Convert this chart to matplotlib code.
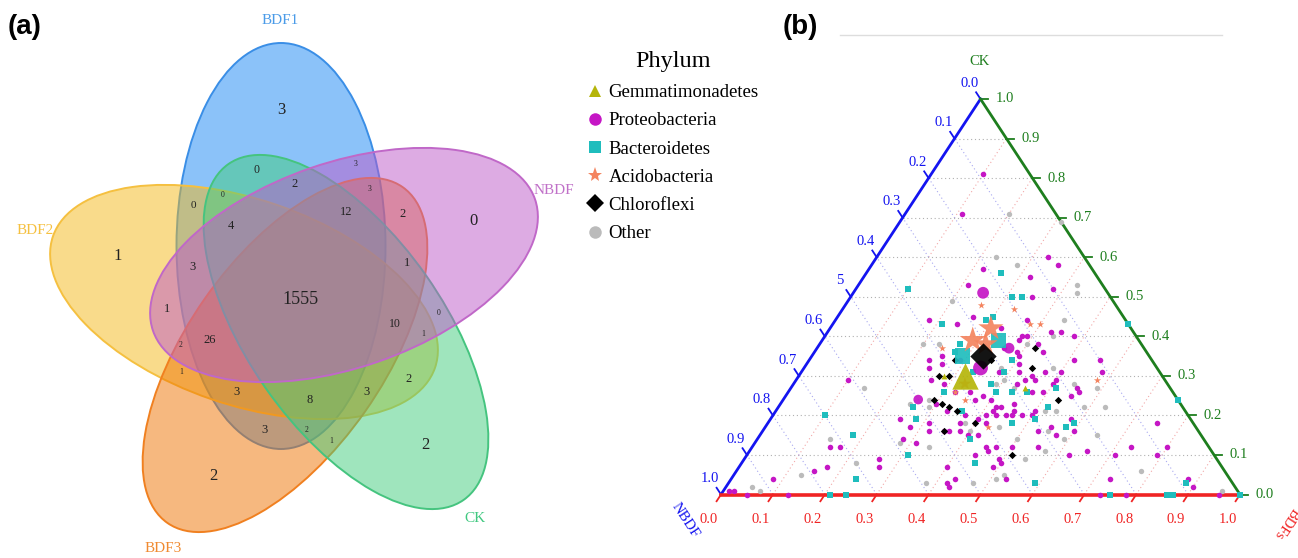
import numpy as np
import matplotlib
matplotlib.use("Agg")
import matplotlib.pyplot as plt
from matplotlib.patches import Ellipse
from matplotlib.lines import Line2D

# ---------------- (a) Venn data ----------------
set_names = ['BDF1', 'BDF2', 'BDF3', 'CK', 'NBDF']
venn_counts = [3, 0, 3, 2, 3, 0, 0, 12, 2, 0, 4, 1, 3, 1, 1555, 1, 0, 10,
               26, 1, 2, 1, 2, 3, 8, 3, 3, 2, 1, 2, 2]

# ---------------- (b) ternary data (CK, BDFs; NBDF = 1 - CK - BDFs) ----------------
phyla = ['Gemmatimonadetes', 'Proteobacteria', 'Bacteroidetes',
         'Acidobacteria', 'Chloroflexi', 'Other']

proteo_ck = [0.81, 0.71, 0.60, 0.57, 0.58, 0.55, 0.53, 0.52, 0.50, 0.45, 0.44, 0.43, 0.44, 0.42,
             0.40, 0.40, 0.41, 0.40, 0.36, 0.37, 0.34, 0.34, 0.31, 0.32, 0.33, 0.34, 0.33, 0.31,
             0.31, 0.29, 0.26, 0.26, 0.28, 0.27, 0.29, 0.28, 0.29, 0.28, 0.29, 0.24, 0.25, 0.24,
             0.22, 0.21, 0.20, 0.20, 0.20, 0.20, 0.20, 0.21, 0.20, 0.19, 0.18, 0.20, 0.18, 0.16,
             0.18, 0.19, 0.16, 0.16, 0.17, 0.13, 0.14, 0.16, 0.15, 0.15, 0.12, 0.12, 0.12, 0.12,
             0.16, 0.17, 0.16, 0.15, 0.19, 0.11, 0.12, 0.10, 0.18, 0.12, 0.10, 0.10, 0.11, 0.09,
             0.08, 0.07, 0.04, 0.07, 0.03, 0.02, 0.04, 0.09, 0.07, 0.12, 0.12, 0.07, 0.06, 0.04,
             0.10, 0.04, 0.04, 0.02, 0.01, 0.01, 0.00, 0.00, 0.00, 0.00, 0.00, 0.35, 0.34, 0.35,
             0.31, 0.31, 0.30, 0.29, 0.26, 0.26, 0.23, 0.21, 0.22, 0.23, 0.21, 0.25, 0.26, 0.39,
             0.41, 0.38, 0.36]
proteo_bdfs = [0.10, 0.11, 0.33, 0.22, 0.36, 0.32, 0.21, 0.38, 0.35, 0.26, 0.18, 0.24, 0.37, 0.33,
               0.38, 0.48, 0.45, 0.39, 0.39, 0.36, 0.51, 0.56, 0.58, 0.24, 0.26, 0.29, 0.41, 0.42,
               0.47, 0.46, 0.49, 0.47, 0.50, 0.55, 0.44, 0.43, 0.26, 0.29, 0.10, 0.37, 0.38, 0.40,
               0.43, 0.46, 0.46, 0.48, 0.50, 0.45, 0.43, 0.42, 0.41, 0.40, 0.42, 0.37, 0.37, 0.36,
               0.31, 0.25, 0.32, 0.35, 0.28, 0.31, 0.28, 0.38, 0.40, 0.42, 0.45, 0.47, 0.50, 0.55,
               0.53, 0.55, 0.60, 0.57, 0.58, 0.65, 0.73, 0.71, 0.75, 0.80, 0.79, 0.44, 0.46, 0.49,
               0.50, 0.49, 0.53, 0.40, 0.42, 0.43, 0.43, 0.26, 0.27, 0.17, 0.15, 0.17, 0.15, 0.08,
               0.62, 0.73, 0.88, 0.90, 0.02, 0.01, 0.05, 0.13, 0.73, 0.78, 0.96, 0.40, 0.23, 0.25,
               0.50, 0.38, 0.45, 0.50, 0.35, 0.32, 0.30, 0.33, 0.42, 0.45, 0.50, 0.55, 0.56, 0.38,
               0.43, 0.42, 0.44]

bact_ck = [0.56, 0.52, 0.50, 0.50, 0.44, 0.45, 0.43, 0.36, 0.38, 0.34, 0.31, 0.31, 0.28, 0.26,
           0.26, 0.26, 0.27, 0.26, 0.22, 0.19, 0.21, 0.14, 0.08, 0.18, 0.19, 0.22, 0.17, 0.18,
           0.20, 0.15, 0.10, 0.04, 0.03, 0.03, 0.00, 0.00, 0.00, 0.00, 0.00, 0.24, 0.43, 0.00]
bact_bdfs = [0.26, 0.10, 0.31, 0.33, 0.29, 0.30, 0.21, 0.27, 0.27, 0.39, 0.33, 0.39, 0.38, 0.40,
             0.43, 0.46, 0.51, 0.30, 0.26, 0.28, 0.36, 0.41, 0.45, 0.47, 0.51, 0.52, 0.58, 0.59,
             0.10, 0.18, 0.31, 0.24, 0.59, 0.88, 0.21, 0.24, 0.75, 0.86, 0.87, 0.76, 0.57, 1.00]

acido_ck = [0.48, 0.47, 0.43, 0.43, 0.29, 0.26, 0.24, 0.17, 0.37]
acido_bdfs = [0.26, 0.33, 0.38, 0.40, 0.58, 0.32, 0.35, 0.43, 0.24]

chloro_ck = [0.37, 0.32, 0.34, 0.30, 0.30, 0.24, 0.24, 0.23, 0.22, 0.21, 0.18, 0.16, 0.10, 0.34]
chloro_bdfs = [0.42, 0.44, 0.28, 0.29, 0.27, 0.53, 0.29, 0.31, 0.33, 0.35, 0.40, 0.35, 0.51, 0.35]

gemma_ck = [0.30, 0.27]
gemma_bdfs = [0.28, 0.45]

other_ck = [0.71, 0.69, 0.60, 0.58, 0.53, 0.51, 0.49, 0.38, 0.38, 0.32, 0.38, 0.40, 0.44, 0.32,
            0.28, 0.29, 0.27, 0.27, 0.22, 0.22, 0.21, 0.21, 0.23, 0.22, 0.24, 0.18, 0.16, 0.17,
            0.14, 0.16, 0.14, 0.15, 0.09, 0.11, 0.13, 0.12, 0.08, 0.14, 0.27, 0.05, 0.02, 0.01,
            0.03, 0.03, 0.04, 0.05, 0.06, 0.01, 0.28]
other_bdfs = [0.20, 0.31, 0.23, 0.28, 0.42, 0.43, 0.20, 0.20, 0.23, 0.38, 0.40, 0.44, 0.44, 0.48,
              0.39, 0.40, 0.43, 0.59, 0.59, 0.63, 0.52, 0.54, 0.25, 0.29, 0.28, 0.38, 0.40, 0.45,
              0.50, 0.55, 0.59, 0.65, 0.54, 0.57, 0.28, 0.34, 0.22, 0.14, 0.14, 0.13, 0.05, 0.07,
              0.38, 0.47, 0.51, 0.52, 0.78, 0.96, 0.54]

# dominant OTUs (drawn larger, relative abundance %)
top_phylum = ['Proteobacteria', 'Proteobacteria', 'Proteobacteria', 'Proteobacteria',
              'Bacteroidetes', 'Bacteroidetes', 'Acidobacteria', 'Acidobacteria',
              'Acidobacteria', 'Acidobacteria', 'Chloroflexi', 'Gemmatimonadetes']
top_ck = [0.51, 0.32, 0.24, 0.37, 0.35, 0.39, 0.39, 0.42, 0.38, 0.28, 0.35, 0.30]
top_bdfs = [0.25, 0.34, 0.26, 0.37, 0.29, 0.34, 0.29, 0.31, 0.32, 0.33, 0.33, 0.32]
top_abund = [2.4, 3.8, 1.6, 2.0, 4.0, 4.0, 13.0, 12.0, 11.0, 3.0, 6.0, 12.0]

axis_ticks = [0.0, 0.1, 0.2, 0.3, 0.4, 0.5, 0.6, 0.7, 0.8, 0.9, 1.0]
left_ticklabels = ['0.0', '0.1', '0.2', '0.3', '0.4', '5', '0.6', '0.7', '0.8', '0.9', '1.0']
tick_text = ['0.0', '0.1', '0.2', '0.3', '0.4', '0.5', '0.6', '0.7', '0.8', '0.9', '1.0']

plt.rcParams['font.family'] = ['Liberation Serif', 'DejaVu Serif']

fig = plt.figure(figsize=(12.98, 5.58), dpi=100)
ax = fig.add_axes([0, 0, 1, 1])
ax.set_xlim(0, 1298)
ax.set_ylim(558, 0)
ax.axis('off')

# ---- Venn: ellipses (drawn bottom to top) ----
# name, centre, major, minor, visual angle, fill, edge
ellipses = [
    ('BDF1', (281, 246), 406, 209, 90, '#1987F5', '#3A8EE6'),
    ('BDF2', (244, 302), 404, 205, -19, '#F5B919', '#F5C040'),
    ('BDF3', (285, 355), 410, 196, 55, '#EF7300', '#F08020'),
    ('CK', (346, 332), 410, 196, -55, '#41CD7D', '#45C47F'),
    ('NBDF', (344, 265), 404, 205, 19, '#BD59C9', '#C068C8'),
]
for name, c, w, h, ang, fc, ec in ellipses:
    ax.add_patch(Ellipse(c, w, h, angle=-ang, facecolor=fc, alpha=0.5,
                         edgecolor='none'))
    ax.add_patch(Ellipse(c, w, h, angle=-ang, facecolor='none',
                         edgecolor=ec, lw=1.4))

count_pos = [(281, 110), (256, 170), (356, 164), (295, 184), (370, 189), (193, 205),
             (223, 195), (346, 212), (403, 214), (473, 221), (231, 226), (118, 256),
             (193, 267), (407, 263), (300, 300), (167, 309), (439, 313), (395, 324),
             (210, 340), (423, 334), (181, 345), (181, 372), (409, 379), (237, 392),
             (310, 400), (367, 392), (264, 430), (307, 430), (331, 441), (425, 445),
             (213, 476)]
count_fs = [12, 8.5, 5.5, 9, 5.5, 8, 5.5, 9, 9, 12, 9, 12, 9, 9, 13, 9, 5.5, 8.5,
            9, 5.5, 5.5, 5.5, 9, 9, 9, 9, 9, 5.5, 5.5, 12, 12]
for n, (x, y), fs in zip(venn_counts, count_pos, count_fs):
    ax.text(x, y, str(n), fontsize=fs, ha='center', va='center', color='#222222')

set_label_pos = {'BDF1': (280, 21), 'BDF2': (35, 230), 'BDF3': (163, 548),
                 'CK': (475, 519), 'NBDF': (554, 191)}
set_label_col = {'BDF1': '#4A9BE8', 'BDF2': '#F5C040', 'BDF3': '#F08A30',
                 'CK': '#40C880', 'NBDF': '#C070C8'}
for name in set_names:
    x, y = set_label_pos[name]
    ax.text(x, y, name, fontsize=11, ha='center', va='center', color=set_label_col[name])

ax.text(8, 27, '(a)', fontsize=20, fontweight='bold', family='Liberation Sans',
        ha='left', va='center')
ax.text(783, 27, '(b)', fontsize=20, fontweight='bold', family='Liberation Sans',
        ha='left', va='center')
ax.plot([840, 1222], [35, 35], color='#DDDDDD', lw=1)

# ---- ternary plot ----
tax = fig.add_axes([721 / 1298, (558 - 494.5) / 558, 519 / 1298, 395.5 / 558])
tax.set_xlim(0, 1)
tax.set_ylim(0, 1)
tax.axis('off')
tax.patch.set_alpha(0)


def to_xy(ck, bdfs):
    ck = np.asarray(ck, dtype=float)
    bdfs = np.asarray(bdfs, dtype=float)
    return bdfs + ck / 2, ck


blue, green, red = '#1414F0', '#1E7E1E', '#F02424'
for k in axis_ticks[1:-1]:
    tax.plot([k / 2, 1 - k / 2], [k, k], color='#B0B0B0', lw=0.8, ls=(0, (1, 2.5)), zorder=1)
    tax.plot([k, k + (1 - k) / 2], [0, 1 - k], color='#F2A8A8', lw=0.8, ls=(0, (1, 2.5)), zorder=1)
    tax.plot([1 - k, (1 - k) / 2], [0, 1 - k], color='#A8A8F0', lw=0.8, ls=(0, (1, 2.5)), zorder=1)

tax.plot([0, 0.5], [0, 1], color=blue, lw=2, zorder=4, clip_on=False)
tax.plot([0.5, 1], [1, 0], color=green, lw=2, zorder=4, clip_on=False)
tax.plot([0, 1], [0, 0], color=red, lw=2.6, zorder=4, clip_on=False)

t = 0.017
for v, lab_b, lab_l, lab_r in zip(axis_ticks, tick_text, left_ticklabels, tick_text):
    # bottom (BDFs)
    tax.plot([v, v - 0.5 * t], [0, -t], color=red, lw=1.3, clip_on=False)
    tax.text(v - 0.023, -0.063, lab_b, color=red, fontsize=10.5, ha='center', va='center')
    # left (NBDF)
    x0, y0 = (1 - v) / 2, 1 - v
    tax.plot([x0, x0 - 0.5 * t], [y0, y0 + t], color=blue, lw=1.3, clip_on=False)
    tax.text(x0 - 0.021, y0 + 0.04, lab_l, color=blue, fontsize=10.5, ha='center', va='center')
    # right (CK)
    x1 = 1 - v / 2
    tax.plot([x1, x1 + 0.0154], [v, v], color=green, lw=1.3, clip_on=False)
    tax.text(x1 + 0.047, v, lab_r, color=green, fontsize=10.5, ha='center', va='center')

tax.text(0.499, 1.094, 'CK', color=green, fontsize=10.5, ha='center', va='center')
tax.text(-0.069, -0.066, 'NBDF', color=blue, fontsize=10.5, ha='center', va='center',
         rotation=-56.7)
tax.text(1.088, -0.072, 'BDFs', color=red, fontsize=10.5, ha='center', va='center',
         rotation=236.7)

styles = {
    'Gemmatimonadetes': ('^', '#B5B50A', 18),
    'Proteobacteria': ('o', '#C516C5', 16),
    'Bacteroidetes': ('s', '#1FBDBD', 15),
    'Acidobacteria': ('*', '#F4845F', 30),
    'Chloroflexi': ('D', 'black', 14),
    'Other': ('o', '#BBBBBB', 15),
}
series = {
    'Other': (other_ck, other_bdfs),
    'Proteobacteria': (proteo_ck, proteo_bdfs),
    'Bacteroidetes': (bact_ck, bact_bdfs),
    'Chloroflexi': (chloro_ck, chloro_bdfs),
    'Acidobacteria': (acido_ck, acido_bdfs),
    'Gemmatimonadetes': (gemma_ck, gemma_bdfs),
}
z = 5
for name, (ck, bdfs) in series.items():
    m, col, s = styles[name]
    x, y = to_xy(ck, bdfs)
    tax.scatter(x, y, marker=m, s=s, color=col, linewidths=0, zorder=z, clip_on=False)
    z += 1

order = ['Proteobacteria', 'Bacteroidetes', 'Acidobacteria', 'Chloroflexi', 'Gemmatimonadetes']
for name in order:
    idx = [i for i, p in enumerate(top_phylum) if p == name]
    m, col, s = styles[name]
    x, y = to_xy([top_ck[i] for i in idx], [top_bdfs[i] for i in idx])
    sizes = [30 * top_abund[i] for i in idx]
    tax.scatter(x, y, marker=m, s=sizes, color=col, linewidths=0, zorder=z, alpha=0.92)
    z += 1

handles = []
for name in phyla:
    m, col, s = styles[name]
    handles.append(Line2D([], [], marker=m, color=col, ls='none',
                          markersize=9 if m != '*' else 11, markeredgewidth=0, label=name))
ax.text(673, 62, 'Phylum', fontsize=17.5, ha='center', va='center')
fig.legend(handles=handles, loc='upper left',
           bbox_to_anchor=(584 / 1298, 1 - 84 / 558), frameon=False,
           fontsize=13.5, handletextpad=0.1, handlelength=1.2,
           labelspacing=0.59, borderpad=0, borderaxespad=0)

fig.savefig('out.png', dpi=100)
